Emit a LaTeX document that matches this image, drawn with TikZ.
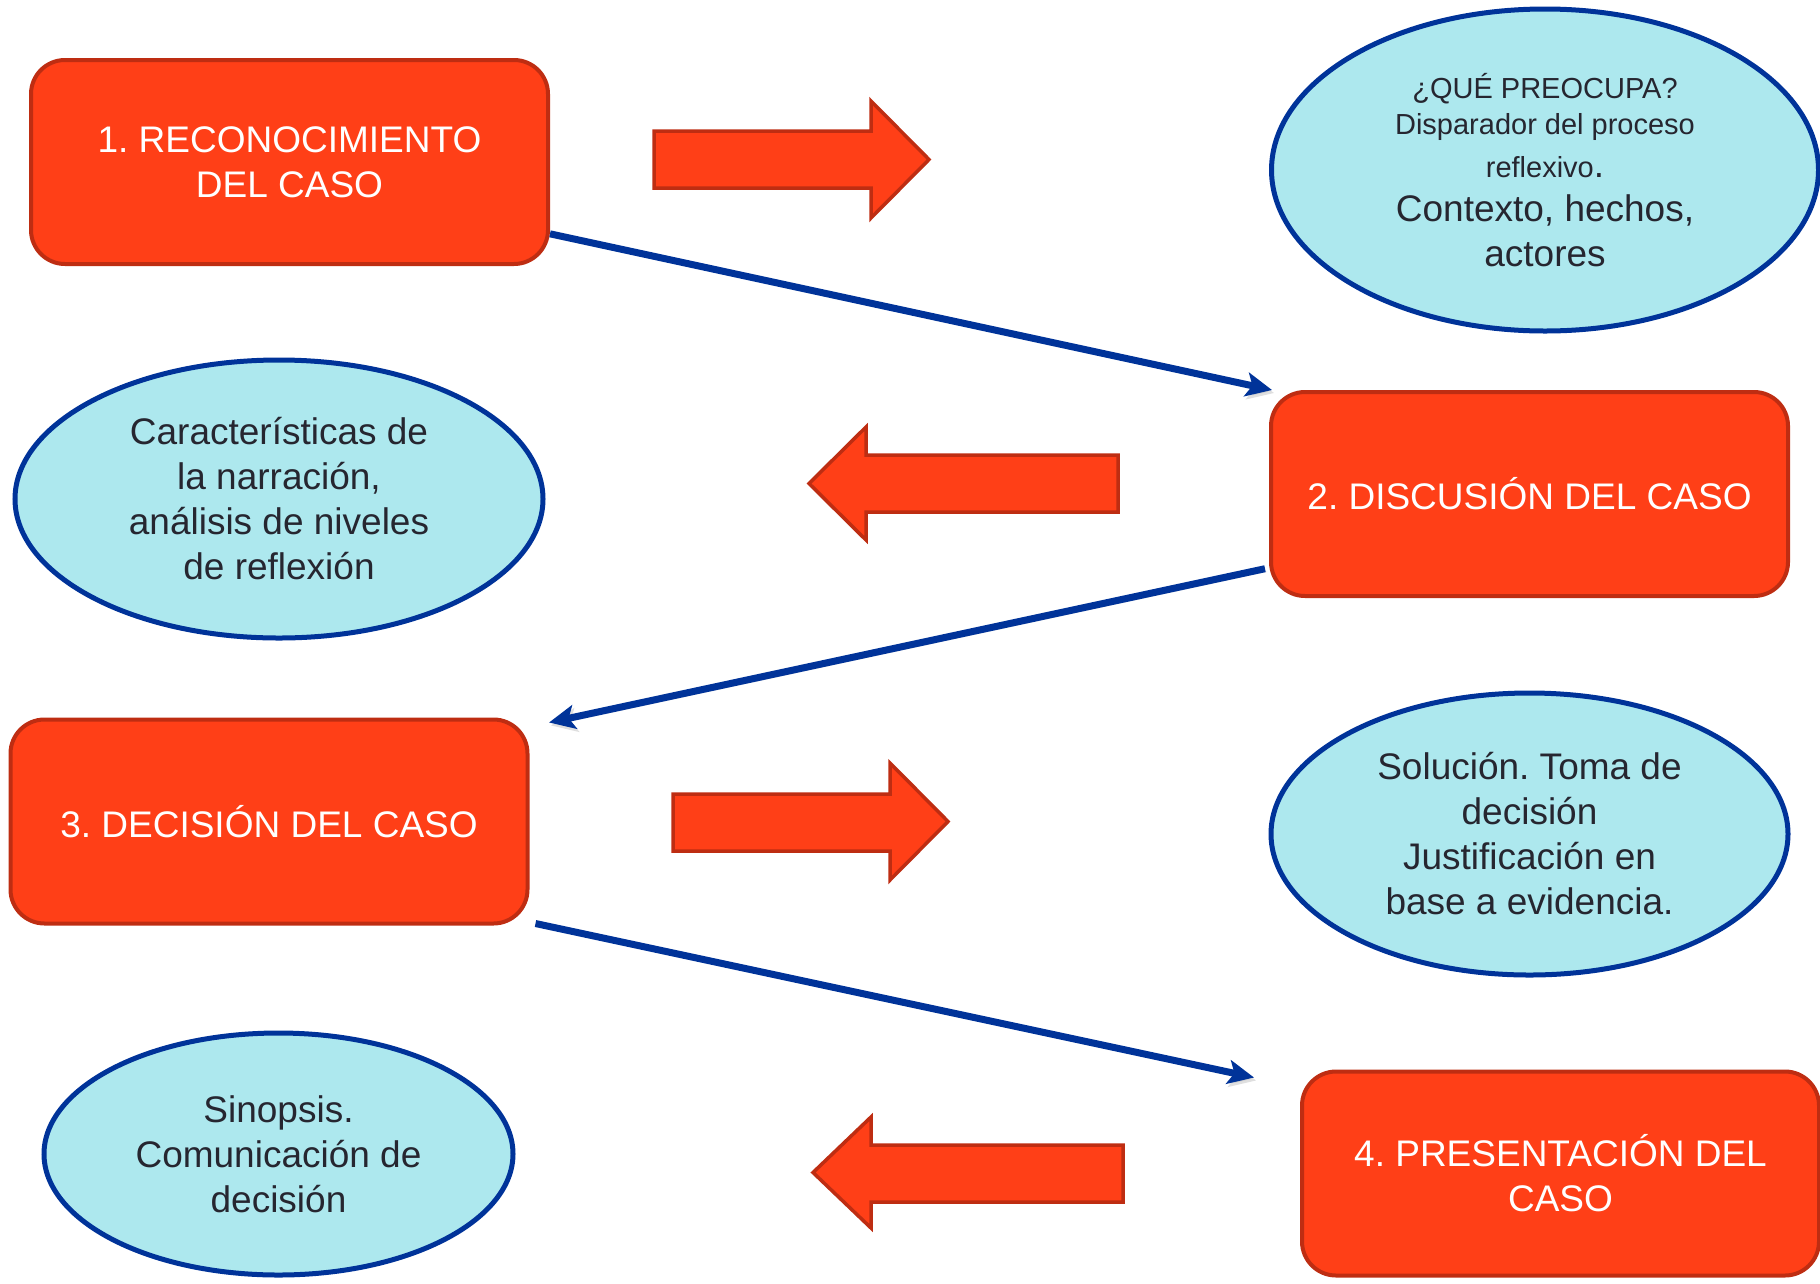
\documentclass[tikz,border=0pt]{standalone}
\usepackage{fontspec}
\setmainfont{Liberation Sans}
\usetikzlibrary{shapes.geometric,arrows.meta,calc}
\definecolor{boxfill}{HTML}{FF3F17}
\definecolor{boxline}{HTML}{BE2D12}
\definecolor{ellfill}{HTML}{ADE8EE}
\definecolor{ellline}{HTML}{003399}
\definecolor{txt}{HTML}{262630}
\frenchspacing
\begin{document}
\frenchspacing
\begin{tikzpicture}[x=1pt,y=-1pt,
  stepbox/.style={draw=boxline,line width=4pt,fill=boxfill,rounded corners=34pt,
    minimum width=517pt,minimum height=204pt,text=white,align=center,
    font=\fontsize{37}{45}\selectfont,inner sep=0pt},
  bubble/.style={ellipse,draw=ellline,line width=5pt,fill=ellfill,text=txt,align=center,
    font=\fontsize{37}{45}\selectfont,inner sep=0pt},
  link/.style={draw=ellline,line width=7pt,-{Stealth[length=26pt,width=24pt,inset=6pt]},
    preaction={draw=black!25,opacity=0.5,transform canvas={shift={(2pt,-3pt)}}}},
  blockarrow/.style={draw=boxline,line width=3.5pt,fill=boxfill,line join=miter}]
\useasboundingbox (0,0) rectangle (1820,1283);

% boxes
\node[stepbox] (b1) at (289.5,162) {1. RECONOCIMIENTO\\DEL CASO};
\node[stepbox] (b2) at (1529.5,494) {2. DISCUSIÓN DEL CASO};
\node[stepbox] (b3) at (269,821.5) {3. DECISIÓN DEL CASO};
\node[stepbox] (b4) at (1560.5,1173.5) {4. PRESENTACIÓN DEL\\CASO};

% ellipses
\node[bubble,minimum width=547pt,minimum height=322pt,font=\fontsize{29}{36}\selectfont] (e1) at (1545,170)
  {¿QUÉ PREOCUPA?\\Disparador del proceso\\[7pt]reflexivo{\fontsize{37}{45}\selectfont.}\\[8pt]
   {\fontsize{37}{45}\selectfont Contexto, hechos,}\\[9pt]{\fontsize{37}{45}\selectfont actores}};
\node[bubble,minimum width=528pt,minimum height=278pt] (e2) at (279,499)
  {Características de\\la narración,\\análisis de niveles\\de reflexión};
\node[bubble,minimum width=517pt,minimum height=282pt] (e3) at (1529.5,834)
  {Solución. Toma de\\decisión\\Justificación en\\base a evidencia.};
\node[bubble,minimum width=469pt,minimum height=242pt] (e4) at (278.5,1154)
  {Sinopsis.\\Comunicación de\\decisión};

% block arrows
\draw[blockarrow] (654,131) -- (871,131) -- (871,101) -- (929,159.5) -- (871,218) -- (871,188) -- (654,188) -- cycle;
\draw[blockarrow] (1118,455) -- (866,455) -- (866,427) -- (809,483.5) -- (866,540) -- (866,512) -- (1118,512) -- cycle;
\draw[blockarrow] (673,794) -- (890,794) -- (890,763) -- (948,821.5) -- (890,880) -- (890,851) -- (673,851) -- cycle;
\draw[blockarrow] (1123,1145) -- (871,1145) -- (871,1117) -- (813,1172.5) -- (871,1228) -- (871,1202) -- (1123,1202) -- cycle;

% connectors
\draw[link] ($(b1.-15.2)+(0,2)$) -- (b2.158.7);
\draw[link,shorten >=20pt] ($(b2.196.8)+(-4,0)$) -- (b3.20);
\draw[link] ($(b3.south east)+(6,-2)$) -- ($(b4.north west)+(-46,8)$);
\end{tikzpicture}
\end{document}
